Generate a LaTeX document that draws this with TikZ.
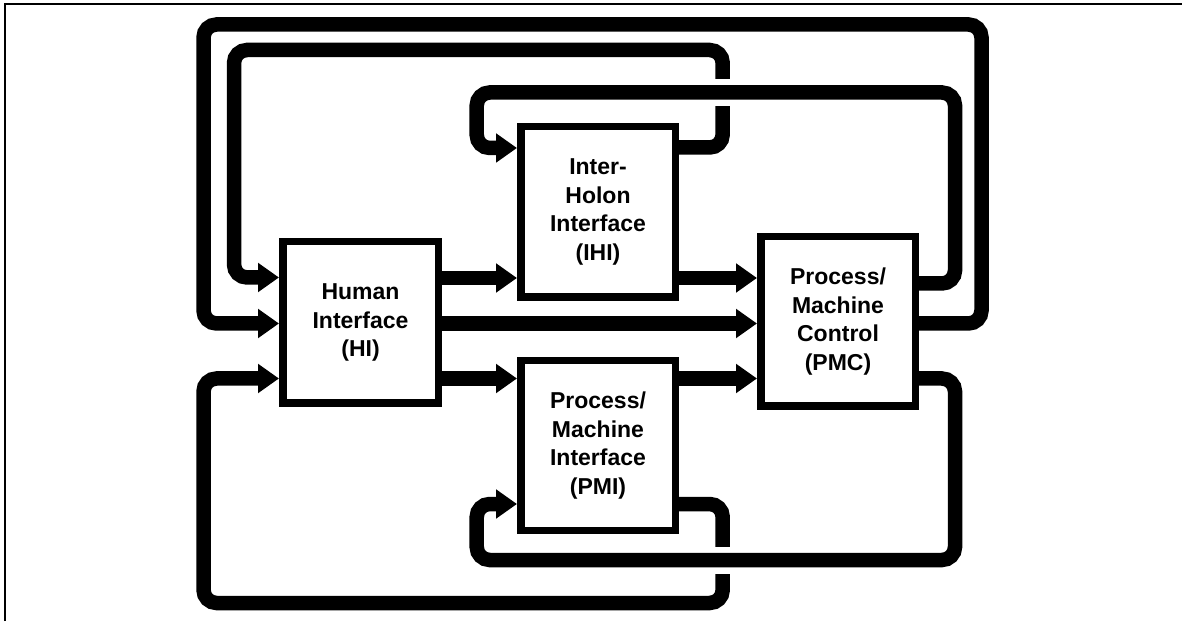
\documentclass[tikz,border=0pt]{standalone}
\usepackage{fontspec}
\setmainfont{Liberation Sans}
\usetikzlibrary{arrows.meta}

\begin{document}
\begin{tikzpicture}[x=1pt,y=1pt,
  blk/.style={draw, line width=7.5pt, align=center, inner sep=0pt,
    font=\fontsize{23}{28.5}\selectfont\bfseries},
  conn/.style={line width=14.5pt, rounded corners=13pt,
    -{Triangle[length=21pt,width=28pt]}},
  gap/.style={white, line width=27pt}]
\useasboundingbox (0,0) rectangle (1182,621);
% frame edges
\draw[line width=2pt] (5,0) -- (5,616.7) -- (1182,616.7);

% blocks
\node[blk, minimum width=155.5pt, minimum height=161.5pt] (HI) at (360.5,298.5)
  {Human\\Interface\\(HI)};
\node[blk, minimum width=154.5pt, minimum height=170.5pt] (IHI) at (598,409)
  {Inter-\\Holon\\Interface\\(IHI)};
\node[blk, minimum width=154.5pt, minimum height=169.5pt] (PMC) at (838,299.5)
  {Process/\\Machine\\Control\\(PMC)};
\node[blk, minimum width=154.5pt, minimum height=169.5pt] (PMI) at (598,175.5)
  {Process/\\Machine\\Interface\\(PMI)};

% straight links
\draw[conn] (HI.east |- 0,343) -- (IHI.west |- 0,343);
\draw[conn] (IHI.east |- 0,343) -- (PMC.west |- 0,343);
\draw[conn] (HI.east |- 0,297.5) -- (PMC.west |- 0,297.5);
\draw[conn] (HI.east |- 0,242.5) -- (PMI.west |- 0,242.5);
\draw[conn] (PMI.east |- 0,242.5) -- (PMC.west |- 0,242.5);

% outer feedback PMC -> HI
\draw[conn] (PMC.east |- 0,297.5) -- (981.5,297.5) -- (981.5,596.5)
  -- (203.5,596.5) -- (203.5,297.5) -- (HI.west |- 0,297.5);

% IHI -> HI
\draw[conn] (IHI.east |- 0,473.5) -- (722.7,473.5) -- (722.7,571)
  -- (234,571) -- (234,343.5) -- (HI.west |- 0,343.5);
% PMC -> IHI, crossing over the IHI -> HI loop
\draw[gap] (705,528.5) -- (740,528.5);
\draw[conn] (PMC.east |- 0,337.5) -- (955,337.5) -- (955,528.5)
  -- (476.7,528.5) -- (476.7,473) -- (IHI.west |- 0,473);

% PMI -> HI
\draw[conn] (PMI.east |- 0,117) -- (722.7,117) -- (722.7,18)
  -- (203.5,18) -- (203.5,242.5) -- (HI.west |- 0,242.5);
% PMC -> PMI, crossing over the PMI -> HI loop
\draw[gap] (705,61) -- (740,61);
\draw[conn] (PMC.east |- 0,242.5) -- (955,242.5) -- (955,61)
  -- (476.7,61) -- (476.7,117) -- (PMI.west |- 0,117);
\end{tikzpicture}
\end{document}
